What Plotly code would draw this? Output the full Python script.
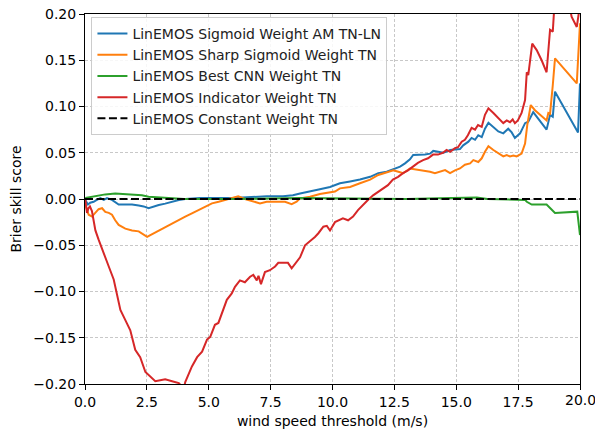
import plotly.graph_objects as go

# ---- data ----
blue_x = [0.01, 0.12, 0.21, 0.35, 0.48, 0.62, 0.76, 0.89, 1.09, 1.22, 1.36, 1.63, 1.90, 2.17, 2.37, 2.57,
          2.78, 2.98, 3.24, 3.52, 3.79, 4.05, 4.65, 5.98, 6.5, 7.34, 8.0, 8.40, 8.69, 9.09, 9.49, 9.90,
          10.30, 10.71, 11.11, 11.52, 11.85, 12.19, 12.46, 12.73, 12.93, 13.13, 13.26, 13.54, 13.74, 13.94,
          14.07, 14.27, 14.48, 14.68, 14.75, 15.15, 15.28, 15.49, 15.62, 15.76, 15.89, 16.03, 16.16, 16.30,
          16.50, 16.70, 16.90, 17.10, 17.24, 17.37, 17.58, 17.78, 17.91, 18.11, 18.65, 18.79, 18.90, 18.99,
          19.92, 20.0]
blue_y = [-0.001, -0.006, -0.004, -0.003, -0.001, 0.001, -0.001, 0.001, -0.001, -0.003, -0.006, -0.006,
          -0.006, -0.007, -0.008, -0.010, -0.008, -0.0065, -0.005, -0.003, -0.001, 0.0, 0.001, 0.001, 0.002,
          0.003, 0.003, 0.004, 0.006, 0.008, 0.0105, 0.013, 0.017, 0.019, 0.021, 0.024, 0.028, 0.0295, 0.032,
          0.035, 0.0385, 0.043, 0.0476, 0.0476, 0.048, 0.049, 0.052, 0.051, 0.050, 0.052, 0.053, 0.054, 0.058,
          0.062, 0.066, 0.064, 0.069, 0.067, 0.076, 0.0825, 0.078, 0.073, 0.071, 0.076, 0.072, 0.066, 0.071,
          0.082, 0.0835, 0.094, 0.075, 0.091, 0.089, 0.116, 0.072, 0.125]

orange_x = [0.01, 0.15, 0.28, 0.42, 0.55, 0.69, 0.82, 0.96, 1.09, 1.22, 1.36, 1.63, 1.90, 2.17, 2.37, 2.51,
            2.64, 2.78, 2.98, 3.24, 3.52, 3.79, 4.05, 4.32, 4.59, 4.86, 5.13, 5.40, 5.86, 6.19, 6.46, 6.80,
            7.07, 7.34, 7.75, 8.08, 8.35, 8.55, 8.69, 9.09, 9.49, 9.90, 10.10, 10.30, 10.71, 11.11, 11.52,
            11.85, 12.19, 12.46, 12.66, 12.86, 13.13, 13.40, 13.67, 13.94, 14.14, 14.34, 14.55, 14.75, 14.95,
            15.15, 15.35, 15.56, 15.69, 15.89, 16.03, 16.16, 16.30, 16.50, 16.70, 16.90, 17.04, 17.17, 17.31,
            17.44, 17.64, 17.78, 17.87, 18.01, 18.18, 18.38, 18.65, 18.72, 18.79, 18.90, 18.99, 19.87, 19.93,
            20.0]
orange_y = [-0.006, -0.017, -0.019, -0.015, -0.011, -0.010, -0.014, -0.015, -0.017, -0.023, -0.028, -0.032,
            -0.034, -0.035, -0.039, -0.041, -0.039, -0.037, -0.034, -0.030, -0.026, -0.023, -0.019, -0.0155,
            -0.012, -0.008, -0.0047, -0.003, 0.0007, 0.003, 0.0, -0.003, -0.0047, -0.003, -0.003, -0.003,
            -0.0055, -0.003, 0.0007, 0.0025, 0.0054, 0.007, 0.008, 0.0115, 0.013, 0.017, 0.021, 0.026, 0.0285,
            0.031, 0.0295, 0.028, 0.033, 0.032, 0.0305, 0.0295, 0.028, 0.0295, 0.0313, 0.028, 0.031, 0.033,
            0.037, 0.0385, 0.042, 0.040, 0.044, 0.051, 0.057, 0.053, 0.049, 0.046, 0.0475, 0.046, 0.047, 0.046,
            0.049, 0.060, 0.080, 0.1016, 0.096, 0.091, 0.085, 0.093, 0.092, 0.123, 0.152, 0.125, 0.16, 0.19]

green_x = [0.01, 0.28, 0.55, 0.82, 1.22, 1.63, 2.03, 2.30, 2.57, 2.98, 3.38, 4.0, 6.0, 8.69, 13.0, 14.34,
           15.83, 16.26, 17.78, 17.85, 18.05, 18.65, 18.79, 18.99, 19.89, 20.0]
green_y = [0.001, 0.0025, 0.004, 0.005, 0.006, 0.0055, 0.005, 0.004, 0.0025, 0.0015, 0.001, 0.0, 0.0, 0.001,
           0.0, 0.0007, 0.0015, 0.0, -0.001, -0.003, -0.006, -0.006, -0.010, -0.015, -0.0137, -0.039]

red_x = [0.01, 0.08, 0.14, 0.2, 0.28, 0.42, 0.55, 0.76, 0.96, 1.16, 1.29, 1.43, 1.63, 1.83, 2.03, 2.23, 2.44,
         2.64, 2.84, 3.04, 3.24, 3.52, 3.79, 3.99, 4.05, 4.32, 4.53, 4.73, 4.93, 5.06, 5.25, 5.39, 5.59, 5.73,
         5.93, 6.06, 6.26, 6.46, 6.67, 6.80, 6.94, 7.01, 7.11, 7.27, 7.47, 7.68, 7.81, 8.01, 8.2, 8.35, 8.55,
         8.69, 8.89, 9.09, 9.29, 9.43, 9.63, 9.77, 9.90, 10.10, 10.23, 10.42, 10.63, 10.83, 11.03, 11.23,
         11.43, 11.64, 11.84, 12.04, 12.24, 12.44, 12.65, 12.85, 13.05, 13.25, 13.45, 13.66, 13.86, 14.06,
         14.26, 14.46, 14.61, 14.75, 14.95, 15.07, 15.22, 15.35, 15.47, 15.62, 15.76, 15.88, 16.03, 16.16,
         16.30, 16.50, 16.70, 16.90, 17.04, 17.17, 17.28, 17.37, 17.49, 17.64, 17.78, 17.85, 17.91, 18.07,
         18.25, 18.45, 18.65, 18.79, 18.90, 18.99, 19.19, 19.5, 19.66, 19.87, 19.93, 20.0]
red_y = [0.000, -0.015, -0.010, -0.008, -0.013, -0.034, -0.044, -0.058, -0.073, -0.087, -0.102, -0.120,
         -0.131, -0.142, -0.163, -0.171, -0.187, -0.192, -0.197, -0.196, -0.195, -0.197, -0.199, -0.205,
         -0.198, -0.181, -0.171, -0.165, -0.152, -0.149, -0.136, -0.134, -0.120, -0.109, -0.102, -0.095,
         -0.088, -0.090, -0.084, -0.082, -0.088, -0.083, -0.092, -0.079, -0.077, -0.073, -0.069, -0.069,
         -0.069, -0.075, -0.068, -0.063, -0.050, -0.046, -0.041, -0.037, -0.030, -0.029, -0.034, -0.025,
         -0.023, -0.021, -0.023, -0.019, -0.012, -0.006, -0.001, 0.004, 0.008, 0.012, 0.015, 0.021, 0.024,
         0.028, 0.031, 0.035, 0.039, 0.042, 0.044, 0.048, 0.048, 0.050, 0.053, 0.051, 0.055, 0.056, 0.062,
         0.064, 0.069, 0.077, 0.075, 0.080, 0.078, 0.091, 0.098, 0.093, 0.087, 0.082, 0.085, 0.083, 0.086,
         0.082, 0.085, 0.093, 0.107, 0.137, 0.134, 0.168, 0.161, 0.150, 0.137, 0.183, 0.181, 0.22, 0.23, 0.22,
         0.197, 0.186, 0.197, 0.21]

const_x = [0.0, 20.0]
const_y = [0.0, 0.0]

names = ["LinEMOS Sigmoid Weight AM TN-LN", "LinEMOS Sharp Sigmoid Weight TN",
         "LinEMOS Best CNN Weight TN", "LinEMOS Indicator Weight TN", "LinEMOS Constant Weight TN"]
colors = ["#1f77b4", "#ff7f0e", "#2ca02c", "#d62728", "black"]

x_ticks = [0, 2.5, 5, 7.5, 10, 12.5, 15, 17.5, 20]
y_ticks = [-0.2, -0.15, -0.1, -0.05, 0, 0.05, 0.1, 0.15, 0.2]


def fmt(v, nd):
    s = f"{v:.{nd}f}"
    return s.replace("-", "\u2212")


fig = go.Figure()
series = [(blue_x, blue_y), (orange_x, orange_y), (green_x, green_y), (red_x, red_y), (const_x, const_y)]
for i, (xs, ys) in enumerate(series):
    fig.add_trace(go.Scatter(
        x=xs, y=ys, mode="lines", name=names[i],
        line=dict(color=colors[i], width=2, dash=("8px,3.5px" if i == 4 else "solid")),
    ))

font = dict(family="DejaVu Sans", size=14, color="black")
axis_common = dict(showline=True, linecolor="black", linewidth=1, mirror=True,
                   ticks="outside", ticklen=5, tickcolor="black", tickwidth=1,
                   showgrid=True, gridcolor="#c8c8c8", gridwidth=0.8, griddash="3px,2px",
                   zeroline=False, tickfont=font, automargin=False)

# last x tick label would be hidden by plotly at the page edge -> draw it as annotation
x_ticktext = [fmt(v, 1) for v in x_ticks]
last_label = x_ticktext[-1]
x_ticktext[-1] = ""

fig.update_layout(
    width=595, height=429,
    margin=dict(l=85, r=15, t=14, b=45),
    paper_bgcolor="white", plot_bgcolor="white",
    font=font,
    showlegend=True,
    legend=dict(x=0.013, y=0.992, xanchor="left", yanchor="top",
                bgcolor="rgba(255,255,255,0.85)", bordercolor="#cccccc", borderwidth=1,
                font=dict(family="DejaVu Sans", size=14, color="#222222")),
)
fig.add_annotation(x=x_ticks[-1], y=0, xref="x", yref="paper", text=last_label, showarrow=False,
                   xanchor="center", yanchor="top", yshift=-6, font=font)
fig.update_xaxes(range=[0, 20], tickvals=x_ticks, ticktext=x_ticktext,
                 title=dict(text="wind speed threshold (m/s)", font=font, standoff=9), **axis_common)
fig.update_yaxes(range=[-0.2, 0.2], tickvals=y_ticks, ticktext=[fmt(v, 2) for v in y_ticks],
                 title=dict(text="Brier skill score", font=font, standoff=8), **axis_common)

fig.write_html("out.html")
